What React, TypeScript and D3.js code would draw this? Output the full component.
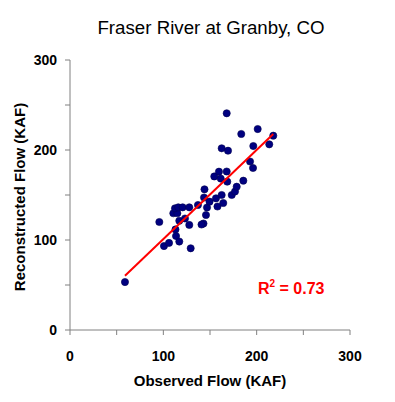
import React from "react";
import * as d3 from "d3";

const title = "Fraser River at Granby, CO";
const xLabel = "Observed Flow (KAF)";
const yLabel = "Reconstructed Flow (KAF)";
const r2Label = "0.73";

const majorTicks = [0, 100, 200, 300];
const minorTicks = [50, 150, 250];

const observed = [
  58.9, 95.7, 100.7, 106.1, 110.7, 115.0, 112.5, 116.0, 120.7, 127.8,
  117.1, 123.2, 127.8, 113.0, 113.6, 117.1, 129.3, 137.1, 143.6, 144.1,
  146.8, 149.5, 145.7, 143.0, 156.4, 158.0, 162.5, 164.2, 154.6, 159.6,
  161.5, 167.9, 168.5, 173.3, 176.8, 178.6, 185.7, 192.9, 196.1, 162.5,
  169.3, 167.9, 183.5, 201.1, 217.8, 213.5, 196.4, 140.9,
];
const reconstructed = [
  53.3, 120.0, 93.3, 96.7, 129.7, 129.7, 135.2, 136.3, 136.3, 136.3,
  121.4, 123.9, 116.7, 111.7, 104.4, 98.3, 90.8, 138.9, 147.2, 156.3,
  136.1, 142.6, 127.8, 118.3, 146.3, 137.2, 150.0, 141.1, 170.6, 175.9,
  168.3, 176.1, 164.8, 150.0, 153.9, 159.2, 165.9, 187.2, 180.0, 201.9,
  199.2, 240.8, 217.8, 223.3, 215.9, 206.3, 204.4, 117.2,
];

const W = 395;
const H = 402;
const plot = { left: 70, right: 350, top: 60, bottom: 330 };

export default function App() {
  const x = d3.scaleLinear().domain([0, 300]).range([plot.left, plot.right]);
  const y = d3.scaleLinear().domain([0, 300]).range([plot.bottom, plot.top]);

  const n = observed.length;
  const mx = d3.mean(observed) as number;
  const my = d3.mean(reconstructed) as number;
  let sxy = 0;
  let sxx = 0;
  for (let i = 0; i < n; i++) {
    sxy += (observed[i] - mx) * (reconstructed[i] - my);
    sxx += (observed[i] - mx) ** 2;
  }
  const slope = sxy / sxx;
  const intercept = my - slope * mx;
  const [xmin, xmax] = d3.extent(observed) as [number, number];
  const line = d3.line<number>()
    .x((v) => x(v))
    .y((v) => y(intercept + slope * v));

  const axisColor = "#808080";
  const font = "'Liberation Sans', Arial, sans-serif";

  return (
    <svg
      width={W}
      height={H}
      style={{ position: "absolute", left: 0, top: 0, background: "#fff" }}
      fontFamily={font}
    >
      <text x={211} y={34} textAnchor="middle" fontSize={18.7} fill="#000">
        {title}
      </text>

      {/* axes */}
      <line x1={plot.left} x2={plot.left} y1={plot.top} y2={plot.bottom} stroke={axisColor} strokeWidth={1} />
      <line x1={plot.left} x2={plot.right} y1={plot.bottom} y2={plot.bottom} stroke={axisColor} strokeWidth={1} />
      {[...majorTicks, ...minorTicks].map((t) => (
        <g key={"t" + t}>
          <line x1={plot.left - 5} x2={plot.left} y1={y(t)} y2={y(t)} stroke={axisColor} />
          <line x1={x(t)} x2={x(t)} y1={plot.bottom} y2={plot.bottom + 5} stroke={axisColor} />
        </g>
      ))}
      {majorTicks.map((t) => (
        <g key={"l" + t} fontWeight="bold" fontSize={14} fill="#000">
          <text x={57} y={y(t) + 5} textAnchor="end">{t}</text>
          <text x={x(t)} y={361} textAnchor="middle">{t}</text>
        </g>
      ))}

      <text x={210} y={386} textAnchor="middle" fontWeight="bold" fontSize={15} fill="#000">
        {xLabel}
      </text>
      <text
        transform={`translate(25,197) rotate(-90)`}
        textAnchor="middle"
        fontWeight="bold"
        fontSize={15}
        fill="#000"
      >
        {yLabel}
      </text>

      {/* points */}
      {observed.map((v, i) => (
        <circle
          key={i}
          cx={x(v)}
          cy={y(reconstructed[i])}
          r={3.6}
          fill="#000080"
          stroke="#000050"
          strokeWidth={0.6}
        />
      ))}

      {/* trend line */}
      <path d={line([xmin, xmax]) || ""} stroke="#ff0000" strokeWidth={2} fill="none" />

      <text x={258} y={294} fontWeight="bold" fontSize={16} fill="#ff0000">
        R
        <tspan dy={-7} fontSize={10}>2</tspan>
        <tspan dy={7}>{" = " + r2Label}</tspan>
      </text>
    </svg>
  );
}
